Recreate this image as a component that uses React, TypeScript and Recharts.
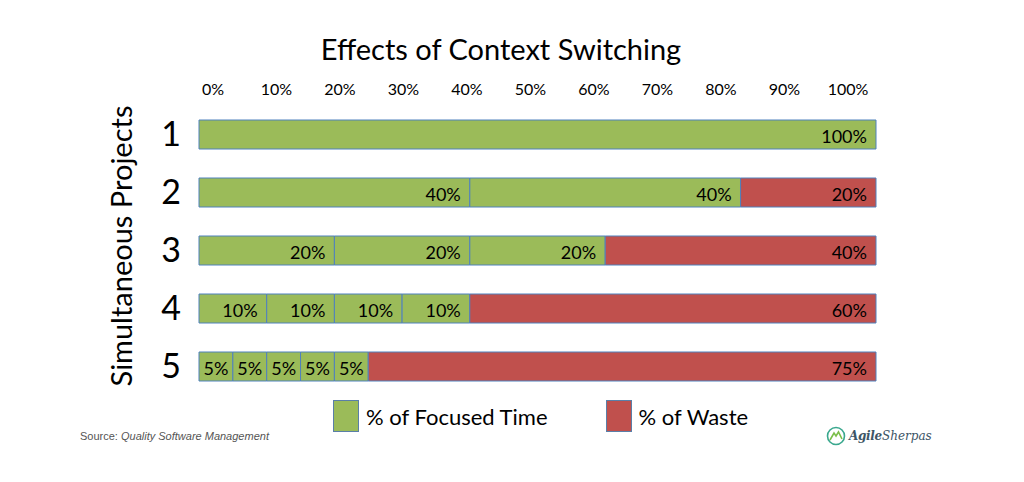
import { BarChart, Bar, XAxis, YAxis, LabelList } from 'recharts'

// rows = number of simultaneous projects
const CATEGORIES = ['1', '2', '3', '4', '5']

// focused time per project, stacked left to right
const FOCUS_1 = [100, 40, 20, 10, 5]
const FOCUS_2 = [null, 40, 20, 10, 5]
const FOCUS_3 = [null, null, 20, 10, 5]
const FOCUS_4 = [null, null, null, 10, 5]
const FOCUS_5 = [null, null, null, null, 5]
const WASTE = [null, 20, 40, 60, 75]

const X_TICKS = [0, 10, 20, 30, 40, 50, 60, 70, 80, 90, 100]

const GREEN = '#9bbb59'
const RED = '#c0504d'
const EDGE = '#4f81bd'
const FONT = 'Lato, "Open Sans", sans-serif'

const LEGEND_ITEMS = [
  { label: '% of Focused Time', color: GREEN },
  { label: '% of Waste', color: RED },
]

const data = CATEGORIES.map((name, i) => ({
  name,
  f1: FOCUS_1[i],
  f2: FOCUS_2[i],
  f3: FOCUS_3[i],
  f4: FOCUS_4[i],
  f5: FOCUS_5[i],
  waste: WASTE[i],
}))

const SegmentLabel = (props: any) => {
  const { x, y, width, height, value } = props
  if (value == null) return null
  const narrow = width < 45
  return (
    <text
      x={narrow ? x + width / 2 : x + width - 9}
      y={y + height / 2 + 1}
      textAnchor={narrow ? 'middle' : 'end'}
      dominantBaseline="central"
      fontSize={18}
      fontFamily={FONT}
      fill="#000"
    >
      {value}%
    </text>
  )
}

const AxisTitle = (props: any) => {
  const { viewBox } = props
  const cx = viewBox.x - 19
  const cy = viewBox.y + viewBox.height / 2 - 4
  return (
    <text
      x={cx}
      y={cy}
      transform={`rotate(-90, ${cx}, ${cy})`}
      textAnchor="middle"
      dominantBaseline="central"
      fontSize={29}
      fontFamily={FONT}
      fill="#000"
    >
      Simultaneous Projects
    </text>
  )
}

const segments = ['f1', 'f2', 'f3', 'f4', 'f5']

export default function App() {
  return (
    <div
      style={{
        position: 'absolute',
        left: 0,
        top: 0,
        width: 1024,
        height: 482,
        background: '#fff',
      }}
    >
      <div
        style={{
          position: 'absolute',
          left: 0,
          width: 1002,
          top: 31,
          textAlign: 'center',
          fontFamily: FONT,
          fontSize: 29,
          color: '#000',
        }}
      >
        Effects of Context Switching
      </div>

      <BarChart
        width={1024}
        height={482}
        data={data}
        layout="vertical"
        barSize={29}
        margin={{ top: 75, right: 148, bottom: 87, left: 139 }}
      >
        <XAxis xAxisId="bars" type="number" domain={[0, 100]} hide />
        <XAxis
          xAxisId="top"
          orientation="top"
          type="number"
          domain={[0, 100]}
          allowDataOverflow
          ticks={X_TICKS}
          height={30}
          padding={{ left: 14, right: 28 }}
          tickFormatter={(v) => `${v}%`}
          tickLine={false}
          axisLine={false}
          tickSize={0}
          tickMargin={10}
          tick={{ fontSize: 16, fill: '#000', fontFamily: FONT }}
          interval={0}
        />
        <YAxis
          type="category"
          dataKey="name"
          width={60}
          tickLine={false}
          axisLine={false}
          tickSize={0}
          tickMargin={18}
          tick={{ fontSize: 34, fill: '#000', fontFamily: FONT }}
          label={<AxisTitle />}
        />
        {segments.map((key) => (
          <Bar
            key={key}
            xAxisId="bars"
            dataKey={key}
            stackId="a"
            fill={GREEN}
            stroke={EDGE}
            strokeWidth={1}
            isAnimationActive={false}
          >
            <LabelList dataKey={key} content={<SegmentLabel />} />
          </Bar>
        ))}
        <Bar
          xAxisId="bars"
          dataKey="waste"
          stackId="a"
          fill={RED}
          stroke={EDGE}
          strokeWidth={1}
          isAnimationActive={false}
        >
          <LabelList dataKey="waste" content={<SegmentLabel />} />
        </Bar>
      </BarChart>

      <div
        style={{
          position: 'absolute',
          left: 333,
          top: 400,
          display: 'flex',
          fontFamily: FONT,
          fontSize: 22,
          color: '#000',
        }}
      >
        {LEGEND_ITEMS.map((item, i) => (
          <div
            key={item.label}
            style={{ display: 'flex', alignItems: 'center', marginLeft: i === 0 ? 0 : 58 }}
          >
            <span
              style={{
                display: 'inline-block',
                width: 24,
                height: 30,
                background: item.color,
                border: '1px solid #5a7fa8',
                marginRight: 7,
              }}
            />
            {item.label}
          </div>
        ))}
      </div>

      <div
        style={{
          position: 'absolute',
          left: 80,
          top: 430,
          fontFamily: '"Liberation Sans", Arial, sans-serif',
          fontSize: 11,
          color: '#555',
        }}
      >
        Source: <i>Quality Software Management</i>
      </div>

      <div
        style={{
          position: 'absolute',
          left: 826,
          top: 426,
          display: 'flex',
          alignItems: 'center',
          fontFamily: '"DejaVu Serif", serif',
          fontStyle: 'italic',
          fontSize: 12,
          color: '#3d5566',
        }}
      >
        <svg width={20} height={20} style={{ marginRight: 3 }}>
          <circle cx={10} cy={10} r={8.5} fill="none" stroke="#3aa88e" strokeWidth={1.6} />
          <path d="M4 14 L8 7 L10 10 L12.5 6 L16 13" fill="none" stroke="#7cbf4a" strokeWidth={1.6} />
        </svg>
        <span style={{ fontWeight: 'bold', letterSpacing: -0.3 }}>Agile</span>
        <span>Sherpas</span>
      </div>
    </div>
  )
}
